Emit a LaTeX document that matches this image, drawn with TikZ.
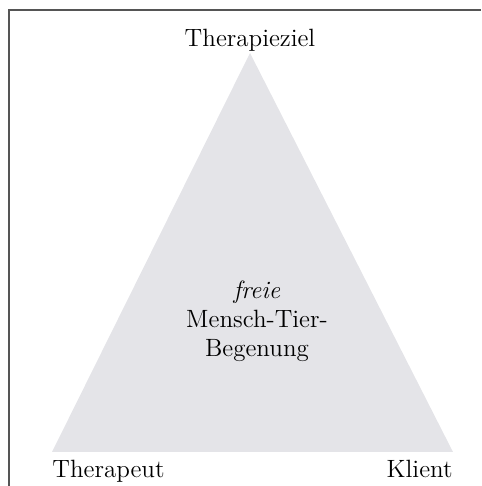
\documentclass[tikz,border=0pt]{standalone}
\definecolor{framegray}{RGB}{85,85,85}
\definecolor{trifill}{RGB}{228,228,232}
\begin{document}
\begin{tikzpicture}[x=0.5pt,y=0.5pt,
  lbl/.style={font=\fontsize{12.5}{14.5}\selectfont, inner sep=0pt}]
\useasboundingbox (0,0) rectangle (481,486);
% frame
\draw [framegray, line width=0.8pt] (9,0) -- (9,476) -- (481,476);
% triangle
\coordinate (top) at (250,433);
\coordinate (left) at (52,34);
\coordinate (right) at (453,34);
\fill [trifill] (left) -- (top) -- (right) -- cycle;
% labels
\node [lbl, anchor=base] (ziel) at (250,439) {Therapieziel};
\node [lbl, anchor=base west] (therapeut) at (52,9) {Therapeut};
\node [lbl, anchor=base east] (klient) at (453,9) {Klient};
\node [lbl, align=center] (mitte) at (257,165) {\textit{freie}\\Mensch-Tier-\\Begenung};
\end{tikzpicture}
\end{document}
